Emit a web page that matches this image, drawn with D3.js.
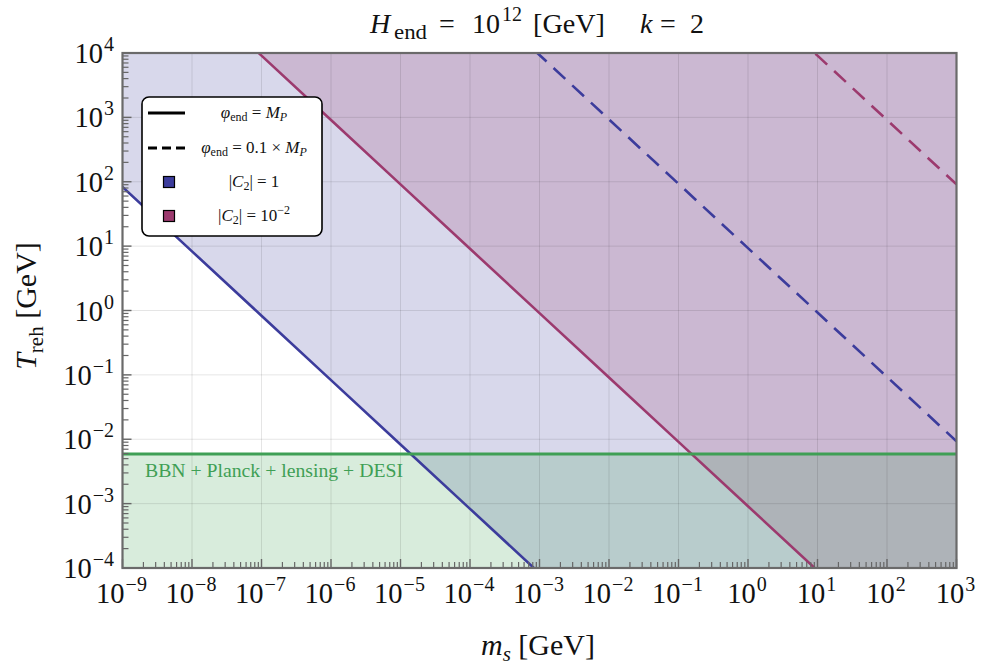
<!DOCTYPE html>
<html><head><meta charset="utf-8">
<script src="https://cdn.jsdelivr.net/npm/d3@7/dist/d3.min.js"></script>
<style>
html,body{margin:0;padding:0;background:#fff;}
svg text{font-family:"Liberation Serif","DejaVu Serif",serif;}
</style></head>
<body><svg id="c" width="996" height="670"></svg>
<script>
// ---- data ----
const masses = [1e-9,1e-8,1e-7,1e-6,1e-5,1e-4,1e-3,1e-2,1e-1,1e0,1e1,1e2,1e3];
const tBlueSolid    = [83,8.3,0.83,0.083,8.3e-3,8.3e-4,8.3e-5,8.3e-6,8.3e-7,8.3e-8,8.3e-9,8.3e-10,8.3e-11];
const tMagentaSolid = [9.1e5,9.1e4,9.1e3,910,91,9.1,0.91,0.091,9.1e-3,9.1e-4,9.1e-5,9.1e-6,9.1e-7];
const tBlueDashed   = [9.3e9,9.3e8,9.3e7,9.3e6,9.3e5,9.3e4,9.3e3,930,93,9.3,0.93,0.093,9.3e-3];
const tMagentaDashed= [9.1e13,9.1e12,9.1e11,9.1e10,9.1e9,9.1e8,9.1e7,9.1e6,9.1e5,9.1e4,9.1e3,910,91];
const bbnLimit = 5.9e-3;
const xTickExps = [-9,-8,-7,-6,-5,-4,-3,-2,-1,0,1,2,3];
const yTickExps = [-4,-3,-2,-1,0,1,2,3,4];
const legendLabels = ["φ_end = M_P","φ_end = 0.1 × M_P","|C2| = 1","|C2| = 10^-2"];

// ---- layout ----
const L=122.5, R=956.5, T=53, B=568;
const blue="#3c3c9c", magenta="#9c3a6e", green="#3f9f55";
const svg=d3.select("#c");
const x=d3.scaleLog().domain([1e-9,1e3]).range([L,R]);
const y=d3.scaleLog().domain([1e-4,1e4]).range([B,T]);

svg.append("defs").append("clipPath").attr("id","clip")
  .append("rect").attr("x",L).attr("y",T).attr("width",R-L).attr("height",B-T);
const g=svg.append("g").attr("clip-path","url(#clip)");

function pts(ts){return masses.map((m,i)=>({m,t:ts[i]}));}
const area=d3.area().x(d=>x(d.m)).y0(d=>y(d.t)).y1(T-50);
const line=d3.line().x(d=>x(d.m)).y(d=>y(d.t));

// fills
g.append("path").datum(pts(tBlueSolid)).attr("d",area).attr("fill",blue).attr("fill-opacity",0.2);
g.append("path").datum(pts(tMagentaSolid)).attr("d",area).attr("fill",magenta).attr("fill-opacity",0.2);
g.append("rect").attr("x",L).attr("width",R-L).attr("y",y(bbnLimit)).attr("height",B-y(bbnLimit))
  .attr("fill","#3ca050").attr("fill-opacity",0.2);

// grid
xTickExps.forEach(e=>g.append("line").attr("x1",x(10**e)).attr("x2",x(10**e)).attr("y1",T).attr("y2",B)
  .attr("stroke","#000").attr("stroke-opacity",0.1).attr("stroke-width",1));
yTickExps.forEach(e=>g.append("line").attr("y1",y(10**e)).attr("y2",y(10**e)).attr("x1",L).attr("x2",R)
  .attr("stroke","#000").attr("stroke-opacity",0.1).attr("stroke-width",1));

// lines
g.append("path").datum(pts(tBlueSolid)).attr("d",line).attr("fill","none").attr("stroke",blue).attr("stroke-width",2.6);
g.append("path").datum(pts(tMagentaSolid)).attr("d",line).attr("fill","none").attr("stroke",magenta).attr("stroke-width",2.6);
g.append("path").datum(pts(tBlueDashed)).attr("d",line).attr("fill","none").attr("stroke",blue).attr("stroke-width",2.6)
  .attr("stroke-dasharray","16,9.5").attr("stroke-dashoffset",-1);
g.append("path").datum(pts(tMagentaDashed)).attr("d",line).attr("fill","none").attr("stroke",magenta).attr("stroke-width",2.6)
  .attr("stroke-dasharray","16,9.5").attr("stroke-dashoffset",-1);
g.append("line").attr("x1",L).attr("x2",R).attr("y1",y(bbnLimit)).attr("y2",y(bbnLimit))
  .attr("stroke",green).attr("stroke-width",2.8);

// BBN text
svg.append("text").attr("x",145).attr("y",477).attr("fill",green).attr("font-size",18)
  .attr("textLength",258).attr("lengthAdjust","spacingAndGlyphs")
  .text("BBN + Planck + lensing + DESI");

// ticks (inward, left and bottom)
const tickCol="#666";
const minorX=[], minorY=[];
for(let e=-9;e<3;e++) for(let k=2;k<=9;k++) minorX.push(k*10**e);
for(let e=-4;e<4;e++) for(let k=2;k<=9;k++) minorY.push(k*10**e);
const tk=svg.append("g");
minorX.forEach(v=>tk.append("line").attr("x1",x(v)).attr("x2",x(v)).attr("y1",B).attr("y2",B-6).attr("stroke",tickCol).attr("stroke-width",1.2));
xTickExps.forEach(e=>tk.append("line").attr("x1",x(10**e)).attr("x2",x(10**e)).attr("y1",B).attr("y2",B-9).attr("stroke",tickCol).attr("stroke-width",1.4));
minorY.forEach(v=>tk.append("line").attr("y1",y(v)).attr("y2",y(v)).attr("x1",L).attr("x2",L+6).attr("stroke",tickCol).attr("stroke-width",1.2));
yTickExps.forEach(e=>tk.append("line").attr("y1",y(10**e)).attr("y2",y(10**e)).attr("x1",L).attr("x2",L+9).attr("stroke",tickCol).attr("stroke-width",1.4));

// frame
svg.append("rect").attr("x",L).attr("y",T).attr("width",R-L).attr("height",B-T)
  .attr("fill","none").attr("stroke","#6a6a6a").attr("stroke-width",2.2);

// tick labels
function expLabel(sel,e){
  sel.append("tspan").text("10");
  sel.append("tspan").attr("dx",1).attr("dy",-12).attr("font-size",20).text(String(e).replace("-","−"));
}
xTickExps.forEach(e=>{
  const t=svg.append("text").attr("x",x(10**e)-1).attr("y",603).attr("font-size",28.5).attr("text-anchor","middle").attr("fill","#111");
  expLabel(t,e);
});
yTickExps.forEach(e=>{
  const t=svg.append("text").attr("x",114).attr("y",y(10**e)+10).attr("font-size",28.5).attr("text-anchor","end").attr("fill","#111");
  expLabel(t,e);
});

// title (pieces placed to match reference)
const tsz=28, ty=33;
function tt(xp,txt,opts={}){
  const e=svg.append("text").attr("x",xp).attr("y",ty+(opts.dy||0)).attr("font-size",opts.size||tsz).attr("fill","#111").text(txt);
  if(opts.italic) e.attr("font-style","italic");
  if(opts.len) e.attr("textLength",opts.len).attr("lengthAdjust","spacingAndGlyphs");
  return e;
}
tt(370,"H",{italic:true});
tt(394,"end",{size:21,dy:6,len:33});
tt(439,"=");
tt(472,"10");
tt(502,"12",{size:20,dy:-12});
tt(533,"[GeV]",{len:72});
tt(640,"k",{italic:true});
tt(660,"=");
tt(690,"2");

// x label
const xl=svg.append("text").attr("x",538).attr("y",655).attr("font-size",30).attr("text-anchor","middle").attr("fill","#111");
xl.append("tspan").attr("font-style","italic").text("m");
xl.append("tspan").attr("dy",6).attr("font-size",21).attr("font-style","italic").text("s");
xl.append("tspan").attr("dy",-6).text(" [GeV]");

// y label
const yl=svg.append("text").attr("transform","translate(36,306) rotate(-90)").attr("font-size",30).attr("text-anchor","middle").attr("fill","#111");
yl.append("tspan").attr("font-style","italic").text("T");
yl.append("tspan").attr("dy",7).attr("font-size",21).text("reh");
yl.append("tspan").attr("dy",-7).text(" [GeV]");

// legend
const lg=svg.append("g");
lg.append("rect").attr("x",142).attr("y",97).attr("width",180).attr("height",139).attr("rx",7)
  .attr("fill","#fff").attr("stroke","#000").attr("stroke-width",1.6);
const rowsY=[113,148,182,216];
lg.append("line").attr("x1",148).attr("x2",185).attr("y1",rowsY[0]).attr("y2",rowsY[0]).attr("stroke","#000").attr("stroke-width",3);
lg.append("line").attr("x1",148).attr("x2",185).attr("y1",rowsY[1]).attr("y2",rowsY[1]).attr("stroke","#000").attr("stroke-width",3).attr("stroke-dasharray","9,5");
lg.append("rect").attr("x",163.5).attr("y",rowsY[2]-5.5).attr("width",11).attr("height",11).attr("fill",blue).attr("stroke","#000").attr("stroke-width",1.2);
lg.append("rect").attr("x",163.5).attr("y",rowsY[3]-5.5).attr("width",11).attr("height",11).attr("fill",magenta).attr("stroke","#000").attr("stroke-width",1.2);

function legText(i){
  const t=lg.append("text").attr("x",254).attr("y",rowsY[i]+5).attr("font-size",17).attr("text-anchor","middle").attr("fill","#111");
  if(i<2){
    t.append("tspan").attr("font-style","italic").text("φ");
    t.append("tspan").attr("dy",3).attr("font-size",12).text("end");
    t.append("tspan").attr("dy",-3).text(i===0?" = ":" = 0.1 × ");
    t.append("tspan").attr("font-style","italic").text("M");
    t.append("tspan").attr("dy",3).attr("font-size",12).attr("font-style","italic").text("P");
  } else {
    t.append("tspan").text("|");
    t.append("tspan").attr("font-style","italic").text("C");
    t.append("tspan").attr("dy",3).attr("font-size",12).text("2");
    t.append("tspan").attr("dy",-3).text(i===2?"| = 1":"| = 10");
    if(i===3) t.append("tspan").attr("dy",-7).attr("font-size",12).text("−2");
  }
}
[0,1,2,3].forEach(legText);
</script></body></html>
